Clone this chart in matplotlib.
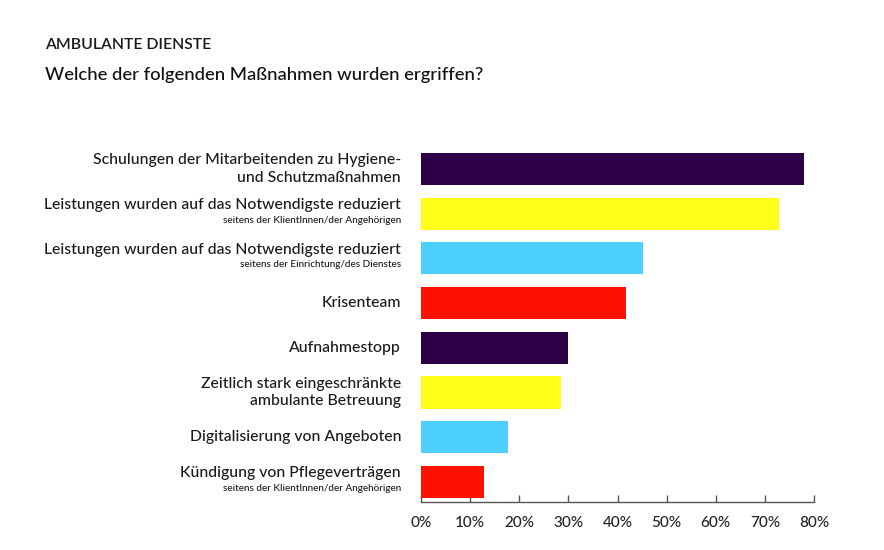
import matplotlib
matplotlib.use("Agg")
import matplotlib.pyplot as plt
import matplotlib.transforms as mtransforms

plt.rcParams['font.family'] = ['Lato', 'DejaVu Sans']

labels = [
    "Schulungen der Mitarbeitenden zu Hygiene-\nund Schutzmaßnahmen",
    "Leistungen wurden auf das Notwendigste reduziert",
    "Leistungen wurden auf das Notwendigste reduziert",
    "Krisenteam",
    "Aufnahmestopp",
    "Zeitlich stark eingeschränkte\nambulante Betreuung",
    "Digitalisierung von Angeboten",
    "Kündigung von Pflegeverträgen",
]
sublabels = [
    "",
    "seitens der KlientInnen/der Angehörigen",
    "seitens der Einrichtung/des Dienstes",
    "",
    "",
    "",
    "",
    "seitens der KlientInnen/der Angehörigen",
]
values = [78.0, 72.8, 45.1, 41.7, 29.9, 28.5, 17.8, 12.9]
colors = ["#2e0045", "#ffff1a", "#4dcfff", "#ff1100",
          "#2e0045", "#ffff1a", "#4dcfff", "#ff1100"]
xticks = [0, 10, 20, 30, 40, 50, 60, 70, 80]
xticklabels = [f"{t}%" for t in xticks]

fig = plt.figure(figsize=(8.84, 5.5), dpi=100)
ax = fig.add_axes([421/884, 1-502/550, (814-421)/884, (502-147)/550])

ypos = list(range(len(values)))
ax.barh(ypos, values, height=0.72, color=colors, zorder=2)
ax.set_ylim(len(values) - 0.55, -0.49)
ax.set_xlim(0, 80)

for s in ["top", "right", "left"]:
    ax.spines[s].set_visible(False)
ax.spines["bottom"].set_color("#555555")
ax.spines["bottom"].set_linewidth(1.0)
ax.set_yticks([])
ax.set_xticks(xticks)
ax.set_xticklabels(xticklabels, fontsize=11, color="#222222", fontweight="medium")
ax.tick_params(axis="x", direction="in", length=5, width=1, color="#555555", pad=10)

trans = mtransforms.blended_transform_factory(fig.transFigure, ax.transData)
xr = 401/884
for y, lab, sub in zip(ypos, labels, sublabels):
    if sub:
        ax.annotate(lab, xy=(xr, y), xycoords=trans, xytext=(0, 1), textcoords="offset points",
                    ha="right", va="bottom", fontsize=11.3, color="#1a1a1a", fontweight="medium")
        ax.annotate(sub, xy=(xr, y), xycoords=trans, xytext=(0, -1.5), textcoords="offset points",
                    ha="right", va="top", fontsize=7.2, color="#1a1a1a", fontweight="medium")
    else:
        ax.text(xr, y, lab, transform=trans, ha="right", va="center", fontsize=11.3,
                color="#1a1a1a", linespacing=1.3, fontweight="medium")

fig.text(45/884, 1-45/550, "AMBULANTE DIENSTE", fontsize=11.3, color="#1a1a1a",
         ha="left", va="center", fontweight="semibold")
fig.text(45/884, 1-75/550, "Welche der folgenden Maßnahmen wurden ergriffen?", fontsize=13.3,
         color="#111111", ha="left", va="center", fontweight="medium")

fig.savefig("out.png", dpi=100, facecolor="white")
